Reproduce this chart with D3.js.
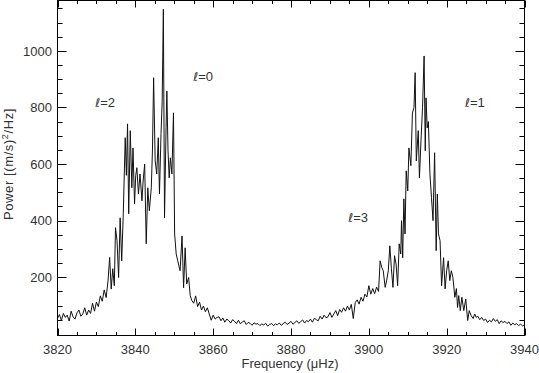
<!DOCTYPE html>
<html>
<head>
<meta charset="utf-8">
<script src="https://cdn.jsdelivr.net/npm/d3@7"></script>
<style>
  body { margin: 0; background: #fff; }
  text { font-family: "Liberation Sans", Arial, sans-serif; font-size: 13px; fill: #333; }
  .ell { font-family: "DejaVu Sans", sans-serif; font-style: italic; font-size: 12px; }
</style>
</head>
<body>
<script>
// Frequency (microHz) and power
var freq = [
    3820.0, 3820.5, 3821.0, 3821.5, 3822.0, 3822.5, 3823.0, 3823.5, 3824.0, 3824.5,
    3825.0, 3825.5, 3826.0, 3826.5, 3827.0, 3827.5, 3828.0, 3828.5, 3829.0, 3829.5,
    3830.0, 3830.5, 3831.0, 3831.5, 3832.0, 3832.5, 3833.0, 3833.4, 3833.8, 3834.2,
    3834.6, 3834.9, 3835.3, 3835.7, 3836.1, 3836.5, 3836.9, 3837.4, 3837.7, 3838.0,
    3838.3, 3838.7, 3839.1, 3839.4, 3839.8, 3840.1, 3840.4, 3840.8, 3841.2, 3841.7,
    3842.0, 3842.4, 3842.8, 3843.2, 3843.6, 3844.1, 3844.4, 3844.7, 3845.1, 3845.5,
    3845.9, 3846.2, 3846.6, 3846.9, 3847.2, 3847.5, 3847.9, 3848.1, 3848.4, 3848.7,
    3849.0, 3849.4, 3849.8, 3850.1, 3850.5, 3850.9, 3851.2, 3851.5, 3852.0, 3852.4,
    3852.8, 3853.2, 3853.7, 3854.1, 3854.5, 3855.0, 3855.5, 3856.0, 3856.5, 3857.0,
    3857.5, 3858.0, 3858.5, 3859.0, 3859.5, 3860.0, 3860.5, 3861.0, 3861.5, 3862.0,
    3862.5, 3863.0, 3863.5, 3864.0, 3864.5, 3865.0, 3865.5, 3866.0, 3866.5, 3867.0,
    3867.5, 3868.0, 3868.5, 3869.0, 3869.5, 3870.0, 3870.5, 3871.0, 3871.5, 3872.0,
    3872.5, 3873.0, 3873.5, 3874.0, 3874.5, 3875.0, 3875.5, 3876.0, 3876.5, 3877.0,
    3877.5, 3878.0, 3878.5, 3879.0, 3879.5, 3880.0, 3880.5, 3881.0, 3881.5, 3882.0,
    3882.5, 3883.0, 3883.5, 3884.0, 3884.5, 3885.0, 3885.5, 3886.0, 3886.5, 3887.0,
    3887.5, 3888.0, 3888.5, 3889.0, 3889.5, 3890.0, 3890.5, 3891.0, 3891.5, 3892.0,
    3892.5, 3893.0, 3893.5, 3894.0, 3894.5, 3895.0, 3895.5, 3896.0, 3896.5, 3897.0,
    3897.5, 3898.0, 3898.5, 3899.0, 3899.5, 3900.0, 3900.5, 3901.0, 3901.5, 3902.0,
    3902.5, 3902.9, 3903.3, 3903.7, 3904.2, 3904.6, 3905.0, 3905.4, 3905.8, 3906.2,
    3906.6, 3907.0, 3907.4, 3907.8, 3908.2, 3908.4, 3908.7, 3909.0, 3909.3, 3909.6,
    3910.0, 3910.3, 3910.8, 3911.2, 3911.6, 3911.9, 3912.2, 3912.7, 3913.0, 3913.4,
    3913.8, 3914.2, 3914.5, 3914.7, 3915.0, 3915.3, 3915.7, 3916.1, 3916.5, 3916.9,
    3917.3, 3917.6, 3917.9, 3918.3, 3918.7, 3919.2, 3919.6, 3920.0, 3920.4, 3920.8,
    3921.2, 3921.6, 3922.1, 3922.5, 3922.8, 3923.1, 3923.5, 3923.9, 3924.4, 3924.9,
    3925.4, 3925.8, 3926.3, 3926.8, 3927.2, 3927.6, 3928.0, 3928.5, 3929.0, 3929.5,
    3930.0, 3930.5, 3931.0, 3931.5, 3932.0, 3932.5, 3933.0, 3933.5, 3934.0, 3934.5,
    3935.0, 3935.5, 3936.0, 3936.5, 3937.0, 3937.5, 3938.0, 3938.5, 3939.0, 3939.5,
    3940.0
];
var power = [
    55, 68, 47, 72, 58, 66, 45, 80, 60, 52,
    74, 84, 62, 70, 92, 66, 84, 72, 108, 80,
    112, 96, 134, 115, 155, 128, 190, 270, 158, 230,
    170, 375, 329, 199, 410, 258, 424, 693, 560, 742,
    424, 718, 516, 657, 459, 560, 587, 494, 565, 470,
    540, 600, 318, 516, 435, 516, 650, 905, 611, 565,
    693, 494, 707, 820, 1147, 410, 728, 858, 647, 551,
    622, 565, 781, 353, 282, 258, 240, 223, 346, 163,
    304, 176, 199, 135, 118, 108, 134, 96, 112, 84,
    98, 78, 92, 70, 48, 66, 52, 58, 60, 46,
    56, 41, 52, 47, 38, 50, 44, 36, 48, 35,
    42, 46, 33, 40, 37, 30, 39, 34, 36, 29,
    35, 31, 37, 27, 33, 36, 29, 35, 32, 38,
    30, 36, 41, 33, 38, 44, 34, 40, 46, 37,
    43, 49, 38, 47, 43, 52, 41, 55, 50, 46,
    62, 52, 66, 57, 60, 75, 58, 70, 82, 64,
    86, 76, 92, 80, 98, 84, 104, 54, 110, 120,
    105, 129, 115, 140, 130, 170, 140, 160, 142, 165,
    150, 258, 235, 223, 164, 190, 223, 311, 230, 164,
    276, 247, 170, 318, 282, 400, 269, 477, 353, 576,
    505, 657, 594, 780, 800, 923, 611, 718, 551, 682,
    800, 982, 647, 834, 728, 750, 565, 481, 400, 640,
    294, 494, 353, 329, 170, 269, 159, 223, 258, 188,
    223, 199, 129, 160, 93, 135, 82, 129, 82, 123,
    47, 82, 64, 54, 70, 58, 62, 50, 58, 47,
    52, 40, 48, 42, 54, 44, 50, 36, 46, 40,
    44, 36, 42, 30, 38, 32, 36, 29, 34, 28,
    32
];

var xTicks = [3820, 3840, 3860, 3880, 3900, 3920, 3940];
var yTicks = [200, 400, 600, 800, 1000];

var modeDeg = ["2", "0", "3", "1"];
var modeFreq = [3829.7, 3854.9, 3894.7, 3924.7];
var modePow = [800, 895, 395, 800];

// Set graph margins and dimensions
var W = 539, H = 373;
var plotL = 57.5, plotR = 524.5, plotT = 0.5, plotB = 335.5;

var svg = d3.select("body").append("svg")
    .attr("width", W)
    .attr("height", H);

var x = d3.scaleLinear().domain([3820, 3940]).range([plotL, plotR]);
var y = d3.scaleLinear().domain([-6, 1178]).range([plotB, plotT]);

// frame
svg.append("rect")
    .attr("x", plotL).attr("y", plotT)
    .attr("width", plotR - plotL).attr("height", plotB - plotT)
    .attr("fill", "none").attr("stroke", "#000").attr("stroke-width", 1);

// ticks on all four sides ------------------------------------------------
var xMinor = d3.range(3825, 3940, 5).filter(function(d) { return d % 20 != 0; });
var yMinor = d3.range(50, 1178, 50).filter(function(d) { return d % 200 != 0; });

var tk = svg.append("g").attr("stroke", "#000").attr("stroke-width", 1);

function xTick(v, len) {
    var px = Math.round(x(v)) + 0.5;
    tk.append("line").attr("x1", px).attr("x2", px).attr("y1", plotB).attr("y2", plotB - len);
    tk.append("line").attr("x1", px).attr("x2", px).attr("y1", plotT).attr("y2", plotT + len);
}
function yTick(v, len) {
    var py = Math.round(y(v)) + 0.5;
    tk.append("line").attr("y1", py).attr("y2", py).attr("x1", plotL).attr("x2", plotL + len);
    tk.append("line").attr("y1", py).attr("y2", py).attr("x1", plotR).attr("x2", plotR - len);
}
xTicks.forEach(function(d) { xTick(d, 7); });
xMinor.forEach(function(d) { xTick(d, 3.5); });
yTicks.forEach(function(d) { yTick(d, 9); });
yMinor.forEach(function(d) { yTick(d, 5); });

// tick labels
svg.append("g").selectAll("text")
    .data(xTicks)
    .enter().append("text")
    .attr("x", function(d) { return x(d); })
    .attr("y", 353.5)
    .attr("text-anchor", "middle")
    .text(function(d) { return d; });

svg.append("g").selectAll("text")
    .data(yTicks)
    .enter().append("text")
    .attr("x", 52)
    .attr("y", function(d) { return y(d) + 4.7; })
    .attr("text-anchor", "end")
    .text(function(d) { return d; });

// axis titles
svg.append("text")
    .attr("x", 290).attr("y", 367.5)
    .attr("text-anchor", "middle")
    .text("Frequency (\u03BCHz)");

var yl = svg.append("text")
    .attr("transform", "translate(12.5,164) rotate(-90)")
    .attr("text-anchor", "middle")
    .attr("font-size", "14px")
    .attr("letter-spacing", "0.6px");
yl.append("tspan").text("Power [(m/s)");
yl.append("tspan").attr("dy", -5).attr("font-size", "9px").text("2");
yl.append("tspan").attr("dy", 5).text("/Hz]");

// spectrum line
var line = d3.line()
    .x(function(d) { return x(d[0]); })
    .y(function(d) { return y(d[1]); });

svg.append("path")
    .datum(d3.zip(freq, power))
    .attr("fill", "none")
    .attr("stroke", "#111")
    .attr("stroke-width", 1)
    .attr("stroke-linejoin", "round")
    .attr("d", line);

// mode labels
var ml = svg.append("g").selectAll("text")
    .data(d3.zip(modeDeg, modeFreq, modePow))
    .enter().append("text")
    .attr("x", function(d) { return x(d[1]); })
    .attr("y", function(d) { return y(d[2]); });
ml.append("tspan").attr("class", "ell").text("\u2113");
ml.append("tspan").text(function(d) { return "=" + d[0]; });
</script>
</body>
</html>
